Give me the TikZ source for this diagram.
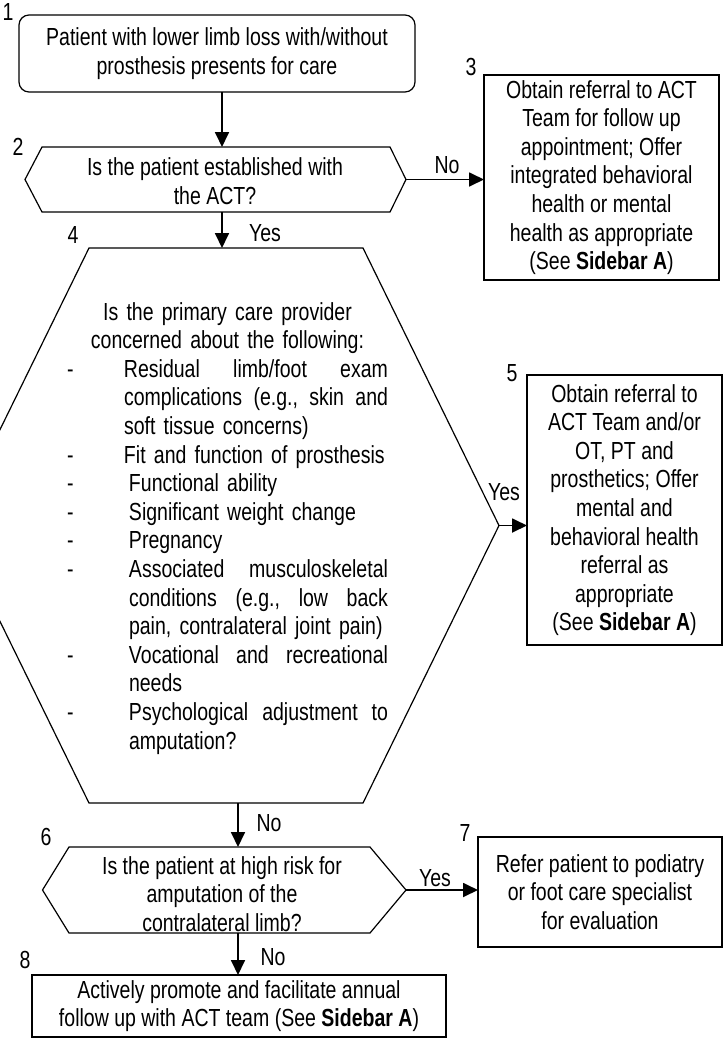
\documentclass[tikz,border=0pt]{standalone}
\usepackage{fontspec}
\setmainfont[FakeStretch=0.79]{Liberation Sans}
\usetikzlibrary{arrows.meta}
\frenchspacing
\begin{document}
\begin{tikzpicture}[x=1pt,y=-1pt,
  every node/.style={font=\fontsize{24.7}{28.6}\selectfont, inner sep=0pt, outer sep=0pt},
  boxline/.style={draw=black, line width=1.2pt},
  rbox/.style={boxline, rectangle, align=center},
  arr/.style={line width=1.8pt, -{Triangle[length=15pt,width=14pt]}},
  num/.style={},
  ans/.style={}]
\useasboundingbox (0,0) rectangle (725,1042);
\fill[white] (0,0) rectangle (725,1042);
\clip (0,0) rectangle (725,1042);

% Box 1
\node[rbox, rounded corners=10pt, minimum width=396pt, minimum height=77pt] (n1) at (217,53.5)
  {Patient with lower limb loss with/without\\prosthesis presents for care};

% Hexagon 2
\coordinate (h2w) at (25,179.5);
\coordinate (h2e) at (406,179.5);
\coordinate (h2n) at (222,147);
\coordinate (h2s) at (222,212);
\draw[boxline] (h2w) -- (42,147) -- (390,147) -- (h2e) -- (390,212) -- (42,212) -- cycle;
\node[align=center] (n2) at (215,181) {Is the patient established with\\the ACT?};

% Box 3
\node[rbox, minimum width=235pt, minimum height=205pt] (n3) at (601.5,177.5)
  {Obtain referral to ACT\\Team for follow up\\appointment; Offer\\integrated behavioral\\health or mental\\health as appropriate\\(See \textbf{Sidebar A})};

% Hexagon 4
\coordinate (h4n) at (222,248);
\coordinate (h4e) at (499,525.5);
\coordinate (h4s) at (238,803);
\draw[boxline] (-47,525.5) -- (89,248) -- (363,248) -- (h4e) -- (363,803) -- (89,803) -- cycle;
\node[anchor=base west, text width=321pt, align=left] (n4) at (67,320) {%
\makebox[321pt]{Is the primary care provider}\\
\makebox[321pt]{concerned about the following:}\\
\makebox[57pt][l]{-}\makebox[264pt][l]{Residual\hfill limb/foot\hfill exam}\\
\hspace*{57pt}\makebox[264pt][l]{complications\hfill (e.g.,\hfill skin\hfill and}\\
\hspace*{57pt}soft tissue concerns)\\
\makebox[57pt][l]{-}Fit and function of prosthesis\\
\makebox[62pt][l]{-}Functional ability\\
\makebox[62pt][l]{-}Significant weight change\\
\makebox[62pt][l]{-}Pregnancy\\
\makebox[62pt][l]{-}\makebox[259pt][l]{Associated\hfill musculoskeletal}\\
\hspace*{62pt}\makebox[259pt][l]{conditions\hfill (e.g.,\hfill low\hfill back}\\
\hspace*{62pt}pain, contralateral joint pain)\\
\makebox[62pt][l]{-}\makebox[259pt][l]{Vocational\hfill and\hfill recreational}\\
\hspace*{62pt}needs\\
\makebox[62pt][l]{-}\makebox[259pt][l]{Psychological\hfill adjustment\hfill to}\\
\hspace*{62pt}amputation?};

% Box 5
\node[rbox, minimum width=195pt, minimum height=270pt] (n5) at (624.5,510)
  {Obtain referral to\\ACT Team and/or\\OT, PT and\\prosthetics; Offer\\mental and\\behavioral health\\referral as\\appropriate\\(See \textbf{Sidebar A})};

% Hexagon 6
\coordinate (h6n) at (238,847);
\coordinate (h6e) at (406,890);
\coordinate (h6s) at (238,933);
\draw[boxline] (42.5,890) -- (69,847) -- (370,847) -- (h6e) -- (370,933) -- (69,933) -- cycle;
\node[align=center] (n6) at (222,894) {Is the patient at high risk for\\amputation of the\\contralateral limb?};

% Box 7
\node[rbox, minimum width=244pt, minimum height=110pt] (n7) at (600,892)
  {Refer patient to podiatry\\or foot care specialist\\for evaluation};

% Box 8
\node[rbox, minimum width=414pt, minimum height=62pt] (n8) at (239,1006)
  {Actively promote and facilitate annual\\follow up with ACT team (See \textbf{Sidebar A})};

% Connectors
\draw[arr] ([xshift=5pt]n1.south) -- (h2n);
\draw[arr] (h2e) -- (h2e -| n3.west);
\draw[arr] (h2s) -- (h4n);
\draw[arr] (h4e) -- (h4e -| n5.west);
\draw[arr] (h4s) -- (h6n);
\draw[arr] (h6e) -- (h6e -| n7.west);
\draw[arr] (h6s) -- (h6s |- n8.north);

% Answer labels
\node[ans] (a1) at (447,165) {No};
\node[ans] (a2) at (265,233) {Yes};
\node[ans] (a3) at (504,492) {Yes};
\node[ans] (a4) at (269,823) {No};
\node[ans] (a5) at (435,878) {Yes};
\node[ans] (a6) at (273,957) {No};

% Step numbers
\node[num] (s1) at (8,12) {1};
\node[num] (s2) at (18,147) {2};
\node[num] (s3) at (471,67) {3};
\node[num] (s4) at (73,235) {4};
\node[num] (s5) at (512,373) {5};
\node[num] (s6) at (46,837) {6};
\node[num] (s7) at (465,833) {7};
\node[num] (s8) at (25,960) {8};
\end{tikzpicture}
\end{document}
